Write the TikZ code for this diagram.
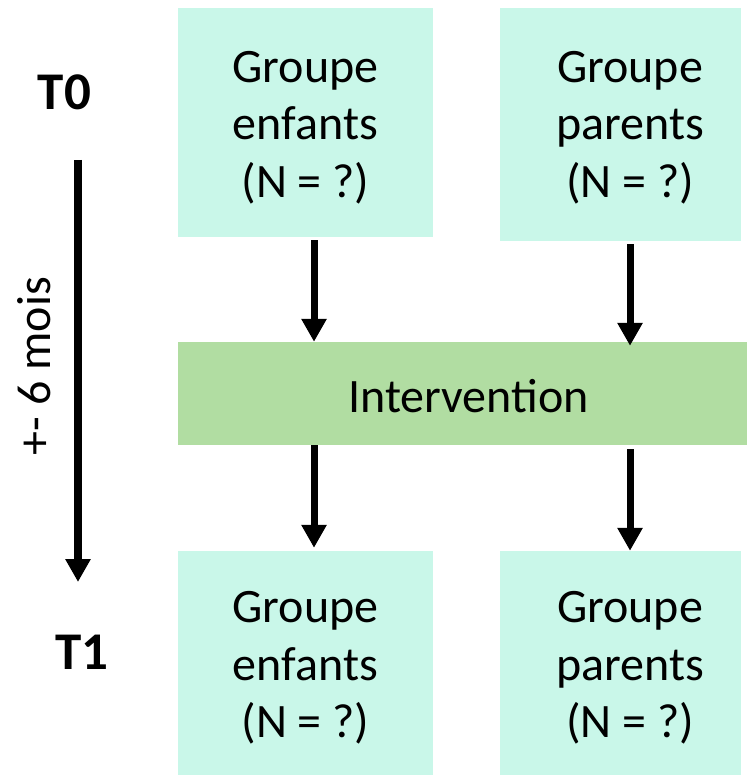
\documentclass[tikz,border=0pt]{standalone}
\usepackage{fontspec}
\setmainfont{Carlito}
\usetikzlibrary{arrows.meta}
\definecolor{mint}{RGB}{201,247,233}
\definecolor{igreen}{RGB}{177,221,162}
\begin{document}
\begin{tikzpicture}[x=1pt,y=-1pt,
  box/.style={fill=mint, draw=none, inner sep=0pt, align=center, font=\fontsize{48}{57.5}\selectfont},
  arr/.style={line width=7pt, -{Triangle[width=24pt,length=23pt]}},
  lbl/.style={inner sep=0pt, font=\fontsize{48}{57.5}\selectfont},
  tlbl/.style={inner sep=0pt, font=\fontsize{53}{60}\selectfont\bfseries}]
\useasboundingbox (0,0) rectangle (747,775);
% boxes
\node[box, minimum width=255pt, minimum height=229pt] (tl) at (305.5,122.5) {};
\node[box, minimum width=241pt, minimum height=233pt] (tr) at (620.5,124.5) {};
\node[box, fill=igreen, minimum width=569pt, minimum height=103pt] (iv) at (462.5,393.5) {};
\node[box, minimum width=255pt, minimum height=224pt] (bl) at (305.5,663) {};
\node[box, minimum width=241pt, minimum height=224pt] (br) at (620.5,663) {};
% texts
\node[lbl, align=center] (tlt) at (305.5,127.5) {Groupe\\enfants\\(N = ?)};
\node[lbl, align=center] (trt) at (630,127.5) {Groupe\\parents\\(N = ?)};
\node[lbl] (ivt) at (468.5,396) {Intervention};
\node[lbl, align=center] (blt) at (305.5,668) {Groupe\\enfants\\(N = ?)};
\node[lbl, align=center] (brt) at (630,668) {Groupe\\parents\\(N = ?)};
% time axis
\node[tlbl] (t0) at (64.5,92.5) {T0};
\node[tlbl] (t1) at (82,652.5) {T1};
\coordinate (ta) at (78,160);
\coordinate (tb) at (78,582);
\draw[line width=8pt, -{Triangle[width=24pt,length=23pt]}] (ta) -- (tb);
\node[lbl, rotate=90] (dur) at (34,366) {+- 6 mois};
% arrows
\draw[arr] ([xshift=8.5pt,yshift=-3pt]tl.south) -- ([xshift=8.5pt]tl.south |- iv.north);
\draw[arr] ([xshift=9.5pt,yshift=-3pt]tr.south) -- ([xshift=9.5pt,yshift=-4pt]tr.south |- iv.north);
\draw[arr] ([xshift=8.5pt]tl.south |- iv.south) -- ([xshift=8.5pt,yshift=3pt]tl.south |- bl.north);
\draw[arr] ([xshift=9.5pt,yshift=-4pt]tr.south |- iv.south) -- ([xshift=9.5pt]tr.south |- br.north);
\end{tikzpicture}
\end{document}
